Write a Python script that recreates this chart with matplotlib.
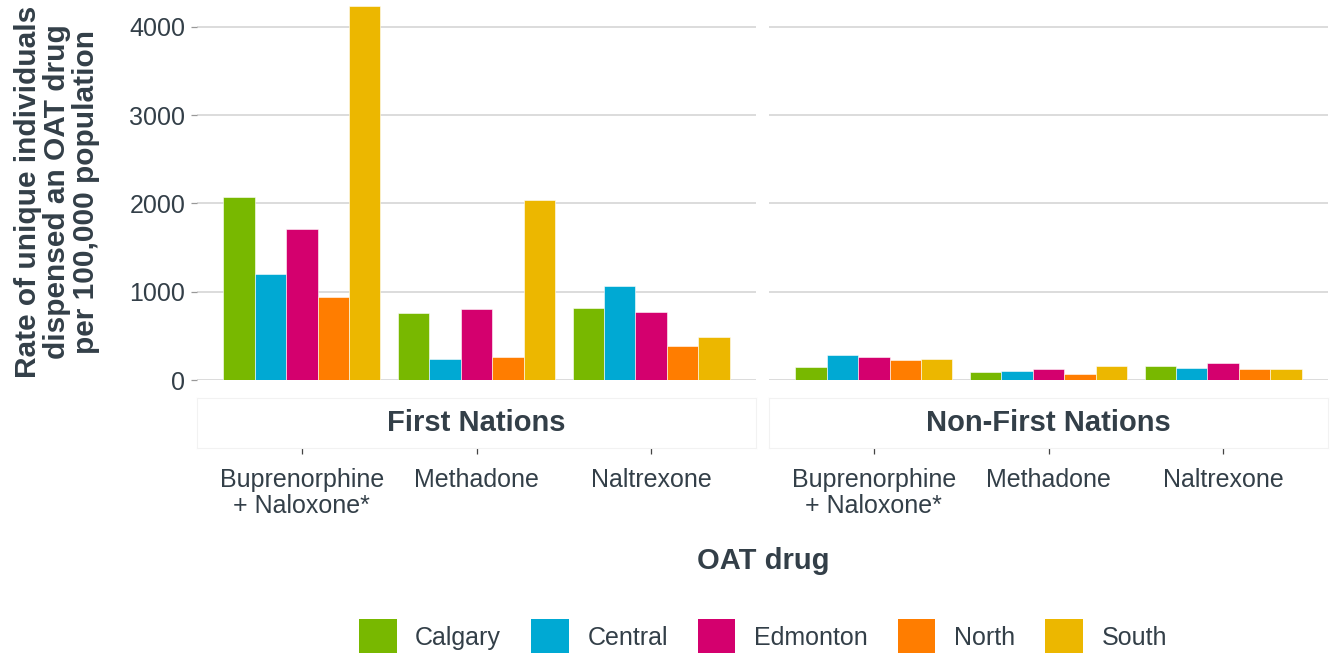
import matplotlib
matplotlib.use("Agg")
import matplotlib.pyplot as plt
import numpy as np
from matplotlib.patches import Patch

plt.rcParams['font.family'] = ['Liberation Sans', 'DejaVu Sans']

# values (rate per 100,000)
drugs = ["Buprenorphine\n+ Naloxone*", "Methadone", "Naltrexone"]
zones = ["Calgary", "Central", "Edmonton", "North", "South"]
colors = ["#78b800", "#00a9d3", "#d4006e", "#ff7d00", "#ecb700"]
groups = ["First Nations", "Non-First Nations"]

fn_calgary = [2068, 762, 815]
fn_central = [1200, 242, 1068]
fn_edmonton = [1713, 808, 774]
fn_north = [936, 257, 385]
fn_south = [4234, 2034, 491]

nfn_calgary = [151, 87, 155]
nfn_central = [280, 98, 132]
nfn_edmonton = [264, 128, 189]
nfn_north = [226, 72, 121]
nfn_south = [238, 155, 128]

data = {
    "First Nations": [fn_calgary, fn_central, fn_edmonton, fn_north, fn_south],
    "Non-First Nations": [nfn_calgary, nfn_central, nfn_edmonton, nfn_north, nfn_south],
}

txt = "#333f48"
W, H = 1331, 653
fig = plt.figure(figsize=(W / 100, H / 100), dpi=100)

panel_left = [197, 769]
panel_w = 559
x = np.arange(len(drugs))
bw = 0.9 / len(zones)

for i, g in enumerate(groups):
    ax = fig.add_axes([panel_left[i] / W, 1 - 380 / H, panel_w / W, 380 / H])
    for j, z in enumerate(zones):
        ax.bar(x - 0.45 + bw * (j + 0.5), data[g][j], width=bw, color=colors[j],
               edgecolor="#ffffff", linewidth=0.4, zorder=3)
    ax.set_xlim(-0.6, 2.6)
    ax.set_ylim(0, 4303)
    ax.set_yticks([0, 1000, 2000, 3000, 4000])
    ax.grid(axis="y", color="#dcdcdc", linewidth=1.4, zorder=0)
    ax.set_axisbelow(True)
    for s in ax.spines.values():
        s.set_visible(False)
    ax.spines["bottom"].set_position(("outward", 49))
    ax.set_xticks(x)
    ax.set_xticklabels(drugs, fontsize=18, color=txt, linespacing=1.12)
    ax.tick_params(axis="x", length=4.5, width=0.9, color="#444444", pad=10)
    if i == 0:
        ax.tick_params(axis="y", length=4.5, width=0.9, color="#999999",
                       labelsize=18, labelcolor=txt, pad=4)
    else:
        ax.tick_params(axis="y", left=False, labelleft=False)

    # facet strip below the panel
    sax = fig.add_axes([panel_left[i] / W, 1 - 448 / H, panel_w / W, 50 / H])
    sax.set_facecolor("#ffffff")
    for s in sax.spines.values():
        s.set_color("#f2f2f2")
        s.set_linewidth(0.8)
    sax.set_xticks([])
    sax.set_yticks([])
    sax.text(0.5, 0.5, g, transform=sax.transAxes, ha="center", va="center",
             fontsize=21, fontweight="bold", color=txt)

fig.text(57 / W, 1 - 192 / H,
         "Rate of unique individuals\ndispensed an OAT drug\nper 100,000 population",
         rotation=90, ha="center", va="center", multialignment="center",
         fontsize=21.5, fontweight="bold", color=txt, linespacing=1.05)
fig.text(763 / W, 1 - 561 / H, "OAT drug", ha="center", va="center",
         fontsize=21, fontweight="bold", color=txt)

handles = [Patch(facecolor=c, edgecolor="none", label=z) for z, c in zip(zones, colors)]
fig.legend(handles=handles, loc="center", bbox_to_anchor=(763 / W, 1 - 637 / H),
           ncol=5, frameon=False, fontsize=18, labelcolor=txt,
           handlelength=1.5, handleheight=1.9, handletextpad=0.75,
           columnspacing=1.2)

fig.savefig("out.png", dpi=100, facecolor="white")
